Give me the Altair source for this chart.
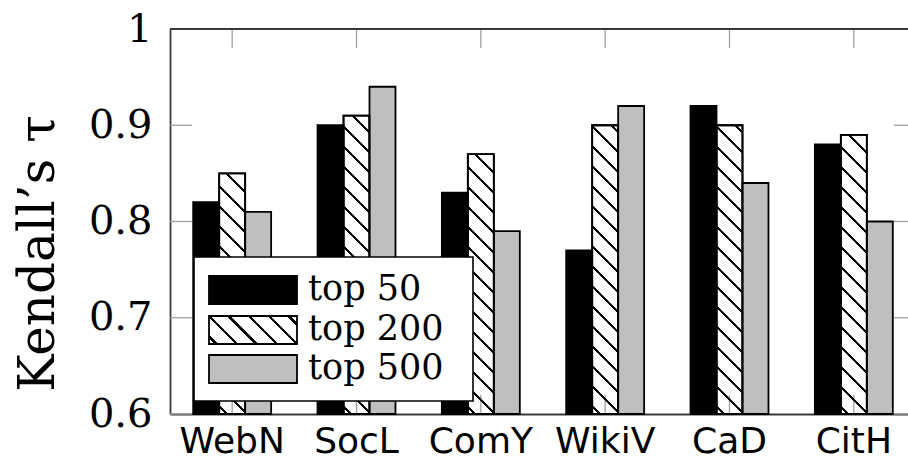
import altair as alt
import pandas as pd

# ---------------- data ----------------
categories = ["WebN", "SocL", "ComY", "WikiV", "CaD", "CitH"]
series = ["top 50", "top 200", "top 500"]
top50 = [0.82, 0.90, 0.83, 0.77, 0.92, 0.88]
top200 = [0.85, 0.91, 0.87, 0.90, 0.90, 0.89]
top500 = [0.81, 0.94, 0.79, 0.92, 0.84, 0.80]
y_ticks = [0.6, 0.7, 0.8, 0.9, 1.0]
y_domain = [0.6, 1.0]

# ---------------- style ----------------
SERIF = "DejaVu Serif"
SANS = "DejaVu Sans"
FRAME = "#3a3a3a"
TICK = "#a0a0a0"
GRAY = "#bfbfbf"
CLEAR = "rgba(255,255,255,0)"
fills = ["black", CLEAR, GRAY]
BAR_STROKE = 1.8

W, H = 738, 385          # plot area (visible part)
X_RANGE = 746            # band range (right frame falls just outside the picture)
PAD_IN = 0.373
step = X_RANGE / len(categories)
bar_w = step * (1 - PAD_IN) / len(series)

rows = []
for s, vals in zip(series, [top50, top200, top500]):
    for c, v in zip(categories, vals):
        rows.append({"cat": c, "series": s, "value": v, "base": y_domain[0]})
df = pd.DataFrame(rows)


def hatch(w, h, period=20.0, lw=2.2, phase=6.0):
    """north-west lines pattern approximated with a hard-stop linear gradient"""
    L = w + h
    k = L / (w * w + h * h)
    t = lw * 2 ** 0.5
    stops = [alt.GradientStop(offset=0, color=CLEAR)]
    s = phase
    while s < L:
        a = round(s / L, 5)
        b = round(min((s + t) / L, 1.0), 5)
        stops += [
            alt.GradientStop(offset=a, color=CLEAR),
            alt.GradientStop(offset=a, color="black"),
            alt.GradientStop(offset=b, color="black"),
            alt.GradientStop(offset=b, color=CLEAR),
        ]
        s += period
    stops.append(alt.GradientStop(offset=1, color=CLEAR))
    return alt.LinearGradient(gradient="linear", stops=stops,
                              x1=0, y1=1, x2=k * w, y2=1 - k * h)


def px_height(v):
    return (v - y_domain[0]) / (y_domain[1] - y_domain[0]) * H


xscale = alt.Scale(domain=categories, range=[0, X_RANGE],
                   paddingInner=PAD_IN, paddingOuter=PAD_IN / 2)
xaxis = alt.Axis(title=None, ticks=False, grid=False, labelAngle=0,
                 domainColor=FRAME, domainWidth=1.8,
                 labelFont=SANS, labelFontSize=36, labelColor="black",
                 labelPadding=38, labelBaseline="alphabetic")
yscale = alt.Scale(domain=y_domain, nice=False, zero=False)
yaxis = alt.Axis(values=y_ticks, format="~g", ticks=False, grid=False,
                 domainColor=FRAME, domainWidth=1.8,
                 labelFont=SERIF, labelFontSize=40, labelColor="black",
                 labelPadding=18,
                 title="Kendall’s τ", titleFont=SERIF, titleFontSize=50,
                 titleFontWeight="normal", titleColor="black",
                 titleAngle=270, titleX=-117, titleY=224,
                 titleAlign="center", titleBaseline="alphabetic")


def X(field="cat"):
    return alt.X(f"{field}:N", sort=categories, scale=xscale, axis=xaxis)


def Y(field="value"):
    return alt.Y(f"{field}:Q", scale=yscale, axis=yaxis)


xoff = alt.XOffset("series:N", sort=series,
                   scale=alt.Scale(domain=series, paddingInner=0, paddingOuter=0))

# ---------------- ticks (inward, gray) ----------------
tick_df = pd.DataFrame({"value": y_ticks})
cat_df = pd.DataFrame({"cat": categories})

yt_left = alt.Chart(tick_df).mark_rule(color=TICK, strokeWidth=1.3).encode(
    y=Y(), x=alt.value(0), x2=alt.value(22))
yt_right = alt.Chart(tick_df).mark_rule(color=TICK, strokeWidth=1.3).encode(
    y=Y(), x=alt.value(X_RANGE - 22), x2=alt.value(X_RANGE))
xt_top = alt.Chart(cat_df).mark_rule(color=TICK, strokeWidth=1.3).encode(
    x=X(), y=alt.value(0), y2=alt.value(19))
xt_bot = alt.Chart(cat_df).mark_rule(color=TICK, strokeWidth=1.3).encode(
    x=X(), y=alt.value(H - 19), y2=alt.value(H))

# ---------------- bars ----------------
bars = alt.Chart(df).mark_bar(stroke="black", strokeWidth=BAR_STROKE).encode(
    x=X(),
    xOffset=xoff,
    y=Y(),
    y2="base:Q",
    fill=alt.Fill("series:N", sort=series,
                  scale=alt.Scale(domain=series, range=fills), legend=None),
)

hatched_layers = []
for c, v in zip(categories, top200):
    one = df[(df["series"] == "top 200") & (df["cat"] == c)]
    hatched_layers.append(
        alt.Chart(one).mark_bar(fill=hatch(bar_w, px_height(v)),
                                stroke="black", strokeWidth=BAR_STROKE).encode(
            x=X(),
            xOffset=xoff,
            y=Y(),
            y2="base:Q",
        )
    )

# ---------------- frame top ----------------
dummy = alt.Chart(pd.DataFrame({"k": [0]}))
top_line = dummy.mark_rule(color=FRAME, strokeWidth=1.8).encode(
    x=alt.value(0), x2=alt.value(X_RANGE), y=alt.value(0))

# ---------------- legend ----------------
legend_layers = [
    dummy.mark_rect(fill="white", stroke="black", strokeWidth=1.6).encode(
        x=alt.value(24), x2=alt.value(303), y=alt.value(228), y2=alt.value(372))
]
sym_tops = [247, 287, 326]
text_base = [271, 311, 350]
sym_fills = ["black", hatch(88, 28), GRAY]
for s, top, base_y, f in zip(series, sym_tops, text_base, sym_fills):
    legend_layers.append(
        dummy.mark_rect(fill=f, stroke="black", strokeWidth=BAR_STROKE).encode(
            x=alt.value(39), x2=alt.value(127), y=alt.value(top), y2=alt.value(top + 28)))
    legend_layers.append(
        dummy.mark_text(text=s, font=SERIF, fontSize=35, align="left",
                        baseline="alphabetic", color="black").encode(
            x=alt.value(138), y=alt.value(base_y)))

chart = alt.layer(
    yt_left, yt_right, xt_top, xt_bot, bars, *hatched_layers, top_line, *legend_layers
).properties(
    width=W, height=H,
    autosize=alt.AutoSizeParams(type="none"),
    padding={"left": 170, "top": 29, "right": 0, "bottom": 45},
    background="white",
).configure_view(stroke=None)

chart.save("out.html", embed_options={"renderer": "svg", "actions": False})
